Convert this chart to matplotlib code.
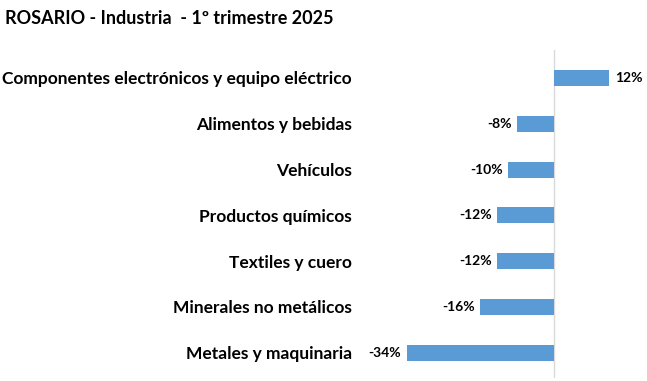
import matplotlib.pyplot as plt

# sectors, top to bottom
sectores = ["Componentes electrónicos y equipo eléctrico",
            "Alimentos y bebidas",
            "Vehículos",
            "Productos químicos",
            "Textiles y cuero",
            "Minerales no metálicos",
            "Metales y maquinaria"]
# variation (%)
variacion = [12, -8, -10, -12.4, -12.4, -16, -32]
etiquetas = ["12%", "-8%", "-10%", "-12%", "-12%", "-16%", "-34%"]

plt.rcParams['font.family'] = ['Lato', 'DejaVu Sans']

W, H = 647, 381
fig = plt.figure(figsize=(W / 100, H / 100), dpi=100)

# axes placed in pixel terms
ax = fig.add_axes([360 / W, 1 - 378 / H, 287 / W, 328 / H])
pos = list(range(len(sectores)))
ax.barh(pos, variacion, height=0.35, color='#5b9bd5', zorder=2)
ax.axvline(0, color='#d9d9d9', lw=1, zorder=1)

ax.set_xlim((360 - 554) / 4.6, (647 - 554) / 4.6)
ax.set_ylim(6.55, -0.61)

for p, v, t in zip(pos, variacion, etiquetas):
    if v >= 0:
        ax.annotate(t, (v, p), xytext=(4, 0), textcoords='offset points',
                    ha='left', va='center', fontsize=10, fontweight='bold')
    else:
        ax.annotate(t, (v, p), xytext=(-4, 0), textcoords='offset points',
                    ha='right', va='center', fontsize=10, fontweight='bold')

ax.set_yticks(pos)
ax.set_yticklabels(sectores, fontsize=12.5, fontweight='bold')
ax.tick_params(axis='y', length=0, pad=5.8)
ax.set_xticks([])
for s in ax.spines.values():
    s.set_visible(False)

fig.text(5 / W, 1 - 18 / H, "ROSARIO - Industria  - 1º trimestre 2025",
         fontsize=13, fontweight='bold', ha='left', va='center')

fig.savefig('out.png', dpi=100)
